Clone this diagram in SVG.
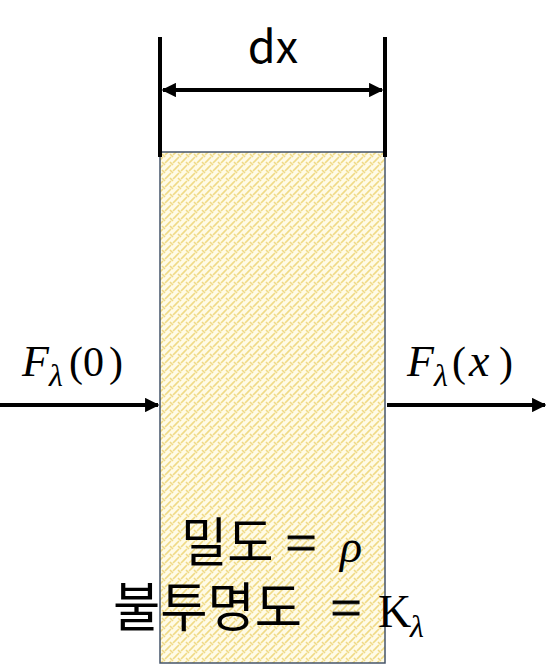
<svg xmlns="http://www.w3.org/2000/svg" width="560" height="665" viewBox="0 0 560 665">
<defs>
<pattern id="weave" width="8" height="8" patternUnits="userSpaceOnUse">
<rect width="8" height="8" fill="#fffbe6"/>
<path d="M0 8 L3 5 M5 3 L8 0 M-1 1 L1 -1 M7 9 L9 7 M2 2 L5 5" stroke="#f0da86" stroke-width="1.6" fill="none"/>
</pattern>
<marker id="ah" viewBox="0 0 10 10" refX="9" refY="5" markerWidth="3.6" markerHeight="3.6" orient="auto-start-reverse" markerUnits="strokeWidth">
<path d="M0 0 L10 5 L0 10 Z" fill="#000"/>
</marker>
<style>
.ln{stroke:#000;stroke-width:4;fill:none}
.sans{font-family:"Noto Sans CJK KR","Noto Sans",sans-serif;fill:#000}
.math{font-family:"Liberation Serif",serif;fill:#000}
.it{font-style:italic}
.eq{font-family:"Liberation Serif",serif;fill:#000;stroke:#000;stroke-width:0.8;font-size:56px;text-anchor:middle}
</style>
</defs>
<g id="slab">
<rect x="160" y="152" width="225" height="511" fill="url(#weave)" stroke="#44546a" stroke-width="1.5"/>
</g>
<g id="connectors">
<line class="ln" x1="160" y1="37" x2="160" y2="157"/>
<line class="ln" x1="385" y1="37" x2="385" y2="157"/>
<line class="ln" x1="163" y1="90" x2="382" y2="90" marker-start="url(#ah)" marker-end="url(#ah)"/>
<line class="ln" x1="0" y1="405" x2="158" y2="405" marker-end="url(#ah)"/>
<line class="ln" x1="387" y1="405" x2="545" y2="405" marker-end="url(#ah)"/>
</g>
<g id="label-dx">
<text class="sans" x="273" y="63" font-size="45" text-anchor="middle">dx</text>
</g>
<g id="label-in">
<text class="math it" x="22" y="376" font-size="44">F</text>
<text class="math it" x="49" y="386" font-size="32">λ</text>
<text class="math" x="69" y="376" font-size="42">(</text>
<text class="math" x="83" y="376" font-size="42">0</text>
<text class="math" x="109" y="376" font-size="42">)</text>
</g>
<g id="label-out">
<text class="math it" x="407" y="376" font-size="44">F</text>
<text class="math it" x="434" y="386" font-size="32">λ</text>
<text class="math" x="452" y="376" font-size="42">(</text>
<text class="math it" x="469" y="376" font-size="46">x</text>
<text class="math" x="499" y="376" font-size="42">)</text>
</g>
<g id="label-density">
<text class="sans" font-size="53" transform="translate(181 562) scale(0.95 1)">밀도</text>
<text class="eq" x="301" y="562">=</text>
<text class="math it" x="340" y="562" font-size="46">ρ</text>
</g>
<g id="label-opacity">
<text class="sans" font-size="53" transform="translate(113 627) scale(0.97 1)">불투명도</text>
<text class="eq" x="346" y="627">=</text>
<text class="math" x="378" y="627" font-size="46">K</text>
<text class="math it" x="410" y="637" font-size="32">λ</text>
</g>
</svg>
